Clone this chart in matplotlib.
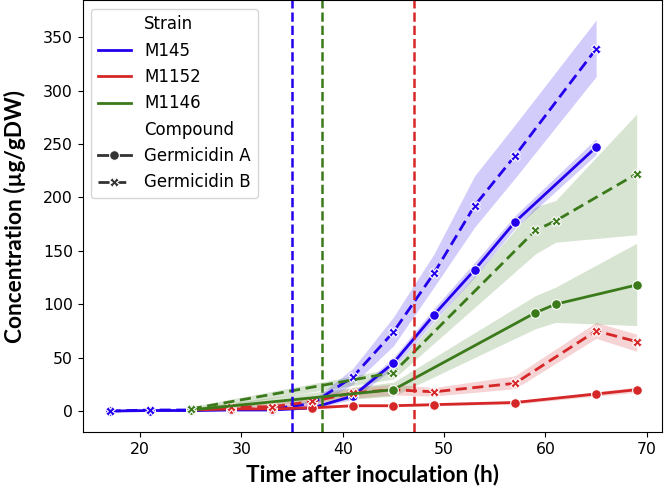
import matplotlib
matplotlib.use("Agg")
import matplotlib.pyplot as plt
from matplotlib.lines import Line2D

# strain colours
colors = {"M145": "#2200ee", "M1152": "#d62728", "M1146": "#3b7a1b"}

# M145
m145_t = [17, 21, 25, 29, 33, 37, 41, 45, 49, 53, 57, 65]
m145_a = [0, 0.5, 0.5, 1, 1, 3, 14, 45, 90, 132, 177, 247]
m145_a_lo = [0, 0.2, 0.2, 0.5, 0.5, 2, 11, 40, 84, 125, 171, 240]
m145_a_hi = [0.3, 0.8, 0.8, 1.5, 1.5, 4, 17, 50, 96, 139, 183, 255]
m145_b = [0, 1, 1, 1.5, 2, 7, 32, 74, 129, 192, 239, 339]
m145_b_lo = [0, 0.5, 0.5, 1, 1, 4, 25, 61, 116, 172, 218, 313]
m145_b_hi = [0.5, 2, 2, 2.5, 3, 10, 40, 88, 147, 220, 268, 366]

# M1152
m1152_t = [25, 29, 33, 37, 41, 45, 49, 57, 65, 69]
m1152_a = [1, 2, 2, 3, 5, 5, 6, 8, 16, 20]
m1152_a_lo = [0, 1, 1, 2, 4, 4, 5, 6.5, 14, 17.5]
m1152_a_hi = [2, 3, 3, 4, 6, 6, 7, 9.5, 18, 22.5]
m1152_b = [1, 4, 4, 9, 17, 20, 18, 26, 75, 65]
m1152_b_lo = [0, 1, 1, 5, 12, 15, 14, 21, 68, 56]
m1152_b_hi = [3, 7, 8, 13, 22, 25, 22, 33, 83, 72]

# M1146
m1146_t = [25, 45, 59, 61, 69]
m1146_a = [1, 20, 92, 100, 118]
m1146_a_lo = [0, 14, 77, 83, 80]
m1146_a_hi = [3, 27, 108, 116, 157]
m1146_b = [2, 36, 169, 178, 222]
m1146_b_lo = [0, 30, 147, 158, 165]
m1146_b_hi = [4, 40, 191, 197, 278]

# onset times (vertical lines)
onsets = {"M145": 35, "M1146": 38, "M1152": 47}

series = [
    ("M145", m145_t, m145_a, m145_a_lo, m145_a_hi, m145_b, m145_b_lo, m145_b_hi),
    ("M1152", m1152_t, m1152_a, m1152_a_lo, m1152_a_hi, m1152_b, m1152_b_lo, m1152_b_hi),
    ("M1146", m1146_t, m1146_a, m1146_a_lo, m1146_a_hi, m1146_b, m1146_b_lo, m1146_b_hi),
]

fig = plt.figure(figsize=(6.64, 4.88), dpi=100)
ax = fig.add_axes([0.1245, 0.1141, 0.8725, 0.885])

for name, t, a, a_lo, a_hi, b, b_lo, b_hi in series:
    c = colors[name]
    ax.fill_between(t, a_lo, a_hi, color=c, alpha=0.2, lw=0)
    ax.plot(t, a, color=c, lw=2, marker="o", ms=7, mec="white", mew=0.8)
    ax.fill_between(t, b_lo, b_hi, color=c, alpha=0.2, lw=0)
    ax.plot(t, b, color=c, lw=2, ls=(0, (4, 2)), marker="X", ms=7, mec="white", mew=0.8)

for name, x in onsets.items():
    ax.axvline(x, color=colors[name], ls="--", lw=1.8)

ax.set_xlim(14.34, 71.5)
ax.set_ylim(-19.9, 384.3)
ax.set_xticks([20, 30, 40, 50, 60, 70])
ax.set_yticks([0, 50, 100, 150, 200, 250, 300, 350])
ax.tick_params(labelsize=11.3)

ax.set_xlabel("Time after inoculation (h)", fontsize=16.3, fontweight="bold", family="Lato", labelpad=5)
ax.set_ylabel("Concentration (µg/gDW)", fontsize=16.3, fontweight="bold", family="Lato", labelpad=12)

blank = Line2D([], [], color="none")
handles = [
    blank,
    Line2D([], [], color=colors["M145"], lw=2),
    Line2D([], [], color=colors["M1152"], lw=2),
    Line2D([], [], color=colors["M1146"], lw=2),
    blank,
    Line2D([], [], color="#333333", lw=2, marker="o", ms=7, mec="white", mew=0.8),
    Line2D([], [], color="#333333", lw=2, ls=(0, (4, 2)), marker="X", ms=7, mec="white", mew=0.8),
]
labels = ["Strain", "M145", "M1152", "M1146", "Compound", "Germicidin A", "Germicidin B"]
ax.legend(handles, labels, loc="upper left", fontsize=12)

fig.savefig("out.png", dpi=100)
